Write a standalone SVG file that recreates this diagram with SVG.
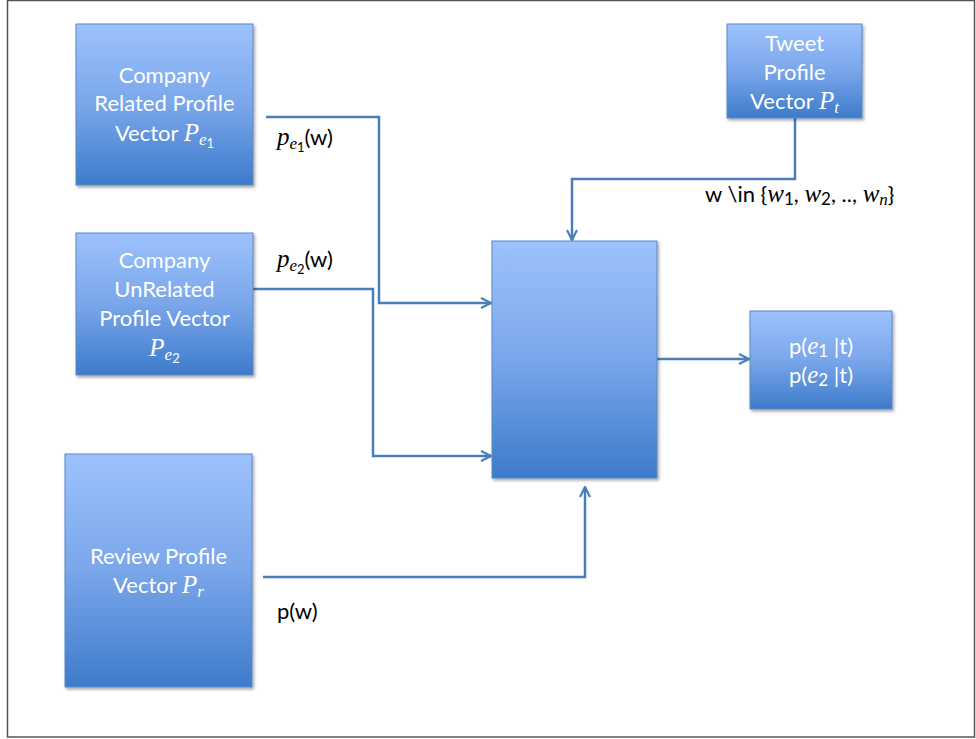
<svg xmlns="http://www.w3.org/2000/svg" width="976" height="739" viewBox="0 0 976 739">
<defs>
<linearGradient id="g" x1="0" y1="0" x2="0" y2="1">
<stop offset="0" stop-color="#9DC2FD"/>
<stop offset="0.5" stop-color="#7AA6EA"/>
<stop offset="1" stop-color="#3D7BCB"/>
</linearGradient>
<filter id="sh" x="-10%" y="-10%" width="130%" height="130%">
<feDropShadow dx="1.5" dy="2" stdDeviation="1.5" flood-color="#000" flood-opacity="0.35"/>
</filter>
<marker id="arr" viewBox="0 0 12 12" refX="11" refY="6" markerWidth="12" markerHeight="12" markerUnits="userSpaceOnUse" orient="auto">
<path d="M1,1 L11,6 L1,11" fill="none" stroke="#4A7EBB" stroke-width="2.2"/>
</marker>
</defs>
<style>
.box{fill:url(#g);stroke:#5A88C6;stroke-width:1;filter:url(#sh)}
.t{font-family:Lato,"Open Sans","Liberation Sans",sans-serif;font-size:22px;fill:#fff;text-anchor:middle}
.m{font-family:"Liberation Serif","DejaVu Serif",serif;font-style:italic}
.b{font-size:25px}
.s{font-size:17px}
.ss{font-size:13px}
.lab{font-family:Lato,"Open Sans","Liberation Sans",sans-serif;font-size:22px;fill:#000}
.c{fill:none;stroke:#4A7EBB;stroke-width:2.5}
</style>
<rect x="7.5" y="0.5" width="967" height="736.5" fill="#fff" stroke="#555" stroke-width="1.5"/>

<g id="connectors">
<polyline class="c" points="266,117 379,117 379,303 491,303" marker-end="url(#arr)"/>
<polyline class="c" points="253,289 373,289 373,456 491,456" marker-end="url(#arr)"/>
<polyline class="c" points="795,118 795,179 572,179 572,240" marker-end="url(#arr)"/>
<polyline class="c" points="263,577 585,577 585,487" marker-end="url(#arr)"/>
<polyline class="c" points="657,359 749,359" marker-end="url(#arr)"/>
</g>

<g id="n-related">
<rect class="box" x="76" y="24" width="177" height="161"/>
<text class="t" x="164.5" y="83">Company</text>
<text class="t" x="164.5" y="111">Related Profile</text>
<text class="t" x="164.5" y="141">Vector <tspan class="m b">P</tspan><tspan class="m s" dy="4">e</tspan><tspan class="ss" dy="3">1</tspan></text>
</g>

<g id="n-unrelated">
<rect class="box" x="76" y="233" width="177" height="142"/>
<text class="t" x="164.5" y="268">Company</text>
<text class="t" x="164.5" y="297">UnRelated</text>
<text class="t" x="164.5" y="326">Profile Vector</text>
<text class="t" x="164.5" y="356"><tspan class="m b">P</tspan><tspan class="m s" dy="4">e</tspan><tspan class="ss" dy="3">2</tspan></text>
</g>

<g id="n-tweet">
<rect class="box" x="727" y="24" width="135" height="94"/>
<text class="t" x="794.5" y="51">Tweet</text>
<text class="t" x="794.5" y="80">Profile</text>
<text class="t" x="794.5" y="109">Vector <tspan class="m b">P</tspan><tspan class="m s" dy="4">t</tspan></text>
</g>

<g id="n-review">
<rect class="box" x="65" y="454" width="187" height="233"/>
<text class="t" x="158.5" y="564">Review Profile</text>
<text class="t" x="158.5" y="593">Vector <tspan class="m b">P</tspan><tspan class="m s" dy="4">r</tspan></text>
</g>

<g id="n-center">
<rect class="box" x="492" y="241" width="165" height="237"/>
</g>

<g id="n-output">
<rect class="box" x="750" y="311" width="142" height="98"/>
<text class="t" x="821" y="354">p(<tspan class="m b">e</tspan><tspan class="s" dy="3">1</tspan><tspan dy="-3"> |t)</tspan></text>
<text class="t" x="821" y="383">p(<tspan class="m b">e</tspan><tspan class="s" dy="3">2</tspan><tspan dy="-3"> |t)</tspan></text>
</g>

<g id="labels">
<text class="lab" x="277" y="145"><tspan class="m b">p</tspan><tspan class="m s" dy="4">e</tspan><tspan class="ss" dy="3">1</tspan><tspan dy="-7">(w)</tspan></text>
<text class="lab" x="277" y="267"><tspan class="m b">p</tspan><tspan class="m s" dy="4">e</tspan><tspan class="ss" dy="3">2</tspan><tspan dy="-7">(w)</tspan></text>
<text class="lab" x="705" y="202">w \in {<tspan class="m b">w</tspan><tspan class="s" dy="3">1</tspan><tspan dy="-3">, </tspan><tspan class="m b">w</tspan><tspan class="s" dy="3">2</tspan><tspan dy="-3">, .., </tspan><tspan class="m b">w</tspan><tspan class="m s" dy="3">n</tspan><tspan dy="-3">}</tspan></text>
<text class="lab" x="277" y="619">p(w)</text>
</g>
</svg>
